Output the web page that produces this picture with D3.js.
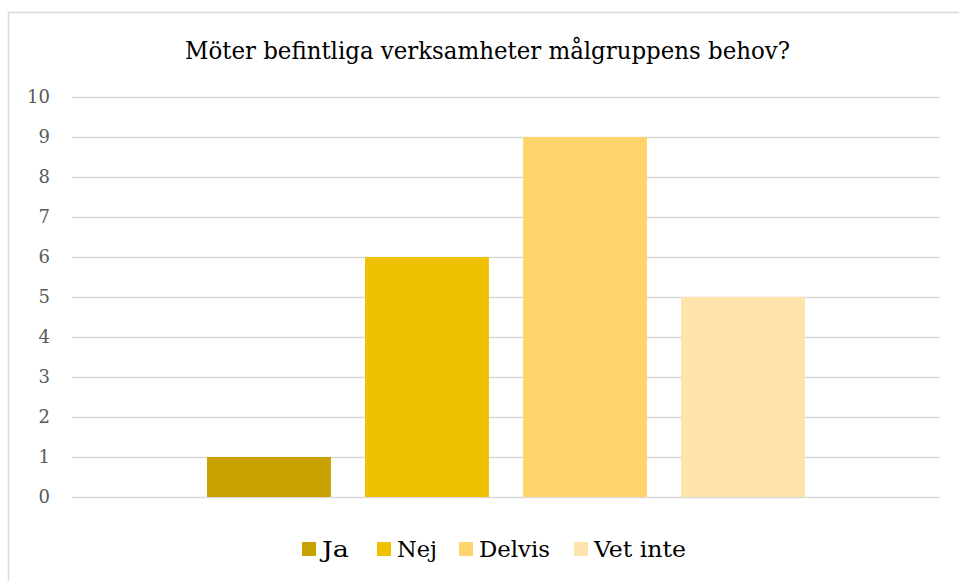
<!DOCTYPE html>
<html>
<head>
<meta charset="utf-8">
<script src="https://cdn.jsdelivr.net/npm/d3@7"></script>
<style>
  html, body { margin: 0; padding: 0; background: #fff; }
  svg { display: block; }
  svg text { font-family: "DejaVu Serif", "Liberation Serif", serif; }
</style>
</head>
<body>
<svg id="chart" width="959" height="581"></svg>
<script>
const title = "Möter befintliga verksamheter målgruppens behov?";
const categories = [""];
const seriesNames = ["Ja", "Nej", "Delvis", "Vet inte"];
const seriesValues = [1, 6, 9, 5];
const seriesColors = ["#C9A100", "#F0C100", "#FFD56B", "#FFE3AD"];
const yTicks = [0, 1, 2, 3, 4, 5, 6, 7, 8, 9, 10];

const svg = d3.select("#chart");
const W = 959, H = 581;

// chart border
svg.append("rect")
  .attr("x", 8.5).attr("y", 12.5)
  .attr("width", W + 20).attr("height", H + 20)
  .attr("fill", "#fff").attr("stroke", "#d9d9d9").attr("stroke-width", 1.5);

const plot = { left: 72, right: 940, top: 97, bottom: 497 };

const y = d3.scaleLinear().domain([0, 10]).range([plot.bottom, plot.top]);
const x0 = d3.scaleBand().domain(categories).range([plot.left, plot.right])
  .paddingInner(0).paddingOuter(0.2258);
const x1 = d3.scaleBand().domain(seriesNames).range([0, x0.bandwidth()])
  .paddingInner(0.216).paddingOuter(0);

// title
svg.append("text")
  .attr("x", 487.5).attr("y", 59)
  .attr("text-anchor", "middle")
  .style("font-size", "24px")
  .attr("fill", "#000")
  .attr("textLength", 605).attr("lengthAdjust", "spacingAndGlyphs")
  .text(title);

// y axis with gridlines
const yAxis = d3.axisLeft(y).tickValues(yTicks).tickSize(-(plot.right - plot.left)).tickPadding(22);
const gy = svg.append("g").attr("transform", `translate(${plot.left},0)`).call(yAxis);
gy.select(".domain").remove();
gy.attr("font-family", null).attr("font-size", null);
gy.selectAll(".tick line").attr("stroke", "#d9d9d9").attr("stroke-width", 1.5);
gy.selectAll(".tick text")
  .style("font-size", "18px")
  .attr("fill", "#595959");

// bars
const groups = svg.append("g").selectAll("g")
  .data(categories).join("g")
  .attr("transform", d => `translate(${x0(d)},0)`);

groups.selectAll("rect")
  .data(seriesNames.map((s, i) => ({ s, v: seriesValues[i], c: seriesColors[i] })))
  .join("rect")
  .attr("x", d => x1(d.s))
  .attr("width", x1.bandwidth())
  .attr("y", d => y(d.v))
  .attr("height", d => y(0) - y(d.v))
  .attr("fill", d => d.c);

// legend
const legend = svg.append("g");
const swatch = 14, textOffset = 20;
const legendX = [302, 377, 459, 574];
const legendW = [27, 40, 71, 92];
const items = legend.selectAll("g").data(seriesNames).join("g")
  .attr("transform", (d, i) => `translate(${legendX[i]},549)`);
items.append("rect").attr("width", swatch).attr("height", swatch)
  .attr("y", -swatch / 2).attr("fill", (d, i) => seriesColors[i]);
items.append("text")
  .attr("x", textOffset)
  .attr("dy", "0.35em")
  .style("font-size", "23px")
  .attr("fill", "#000")
  .attr("textLength", (d, i) => legendW[i]).attr("lengthAdjust", "spacingAndGlyphs")
  .text(d => d);
</script>
</body>
</html>
